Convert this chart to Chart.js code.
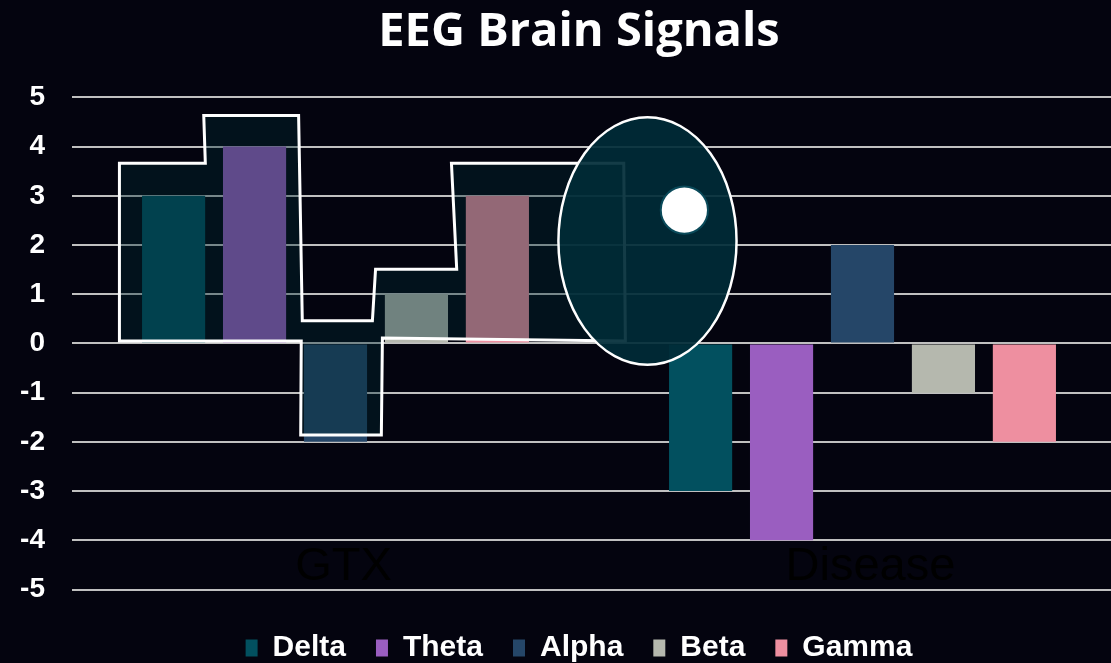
<!DOCTYPE html>
<html>
<head>
<meta charset="utf-8">
<script src="https://cdn.jsdelivr.net/npm/chart.js@4.4.0/dist/chart.umd.min.js"></script>
<style>
  html, body { margin: 0; padding: 0; background: #04040f; overflow: hidden; }
  #eegChart { display: block; }
</style>
</head>
<body>
<canvas id="eegChart" width="1158" height="673"></canvas>
<script>
// chart data
var categories = ['GTX', 'Disease'];
var seriesNames = ['Delta', 'Theta', 'Alpha', 'Beta', 'Gamma'];
var deltaValues = [3, -3];
var thetaValues = [4, -4];
var alphaValues = [-2, 2];
var betaValues = [1, -1];
var gammaValues = [3, -2];
var yTicks = [-5, -4, -3, -2, -1, 0, 1, 2, 3, 4, 5];
var yTickLabels = ['-5', '-4', '-3', '-2', '-1', '0', '1', '2', '3', '4', '5'];

var seriesColors = ['#02505f', '#9a5ec0', '#254668', '#b5b8ae', '#ee8fa0'];

// hand drawn overlay, in [category index, value] units
var outlinePoints = [
    [-0.41, 3.66], [-0.247, 3.66], [-0.25, 4.63], [-0.07, 4.63], [-0.063, 0.46],
    [0.07, 0.46], [0.076, 1.51], [0.23, 1.51], [0.22, 3.66], [0.547, 3.66],
    [0.55, 0.05], [0.089, 0.11], [0.087, -1.86], [-0.066, -1.86], [-0.065, 0.05],
    [-0.41, 0.05]
];
var ovalCenter = [0.592, 2.08];
var ovalRadius = [0.169, 2.515];
var dotCenter = [0.662, 2.71];
var dotRadius = 0.48;

var overlayPlugin = {
    id: 'overlay',
    afterDatasetsDraw: function (chart) {
        var ctx = chart.ctx;
        var x = chart.scales.x, y = chart.scales.y;
        var x0 = x.getPixelForValue(0);
        var step = x.getPixelForValue(1) - x0;
        var px = function (v) { return x0 + v * step; };
        var py = function (v) { return y.getPixelForValue(v); };
        var unit = py(0) - py(1);

        ctx.save();
        // outline shape
        ctx.beginPath();
        outlinePoints.forEach(function (p, i) {
            if (i === 0) ctx.moveTo(px(p[0]), py(p[1]));
            else ctx.lineTo(px(p[0]), py(p[1]));
        });
        ctx.closePath();
        ctx.fillStyle = 'rgba(0, 41, 50, 0.38)';
        ctx.fill();
        ctx.lineWidth = 3;
        ctx.strokeStyle = '#ffffff';
        ctx.stroke();

        // oval
        ctx.beginPath();
        ctx.ellipse(px(ovalCenter[0]), py(ovalCenter[1]), ovalRadius[0] * step, ovalRadius[1] * unit, 0, 0, Math.PI * 2);
        ctx.fillStyle = 'rgba(0, 43, 55, 0.92)';
        ctx.fill();
        ctx.lineWidth = 2.5;
        ctx.strokeStyle = '#ffffff';
        ctx.stroke();

        // dot
        ctx.beginPath();
        ctx.arc(px(dotCenter[0]), py(dotCenter[1]), dotRadius * unit, 0, Math.PI * 2);
        ctx.fillStyle = '#ffffff';
        ctx.fill();
        ctx.lineWidth = 2;
        ctx.strokeStyle = '#0a4a5a';
        ctx.stroke();

        // category labels sit inside the plot, in black
        ctx.fillStyle = '#000000';
        ctx.font = '47px "Liberation Sans", Arial, sans-serif';
        ctx.textAlign = 'center';
        ctx.textBaseline = 'middle';
        categories.forEach(function (c, i) {
            ctx.fillText(c, x.getPixelForValue(i) + 8, py(-4.55));
        });
        ctx.restore();
    }
};

var allValues = [deltaValues, thetaValues, alphaValues, betaValues, gammaValues];

var ctx = document.getElementById('eegChart').getContext('2d');
var myChart = new Chart(ctx, {
    type: 'bar',
    data: {
        labels: categories,
        datasets: seriesNames.map(function (name, i) {
            return {
                label: name,
                data: allValues[i],
                backgroundColor: seriesColors[i],
                borderWidth: 0,
                categoryPercentage: 0.768,
                barPercentage: 0.78
            };
        })
    },
    options: {
        responsive: false,
        animation: false,
        devicePixelRatio: 1,
        layout: { padding: 0 },
        plugins: {
            title: {
                display: true,
                text: 'EEG Brain Signals',
                color: '#ffffff',
                font: { family: '"Open Sans", sans-serif', size: 47, weight: 'bold' },
                padding: { top: 4, bottom: 37 }
            },
            legend: {
                position: 'bottom',
                labels: {
                    color: '#ffffff',
                    font: { family: '"Liberation Sans", Arial, sans-serif', size: 30, weight: 'bold' },
                    boxWidth: 12,
                    boxHeight: 17,
                    padding: 30
                }
            },
            tooltip: { enabled: false }
        },
        scales: {
            x: {
                display: true,
                grid: { display: false },
                border: { display: false },
                ticks: { display: false },
                afterFit: function (scale) { scale.height = 13.5; }
            },
            y: {
                min: -5,
                max: 5,
                afterBuildTicks: function (scale) {
                    scale.ticks = yTicks.map(function (v) { return { value: v }; });
                },
                afterFit: function (scale) { scale.width = 72; },
                grid: { color: '#c0c0c0', lineWidth: 2, drawTicks: false },
                border: { display: false },
                ticks: {
                    color: '#ffffff',
                    padding: 27,
                    font: { family: '"Liberation Sans", Arial, sans-serif', size: 28, weight: 'bold' },
                    callback: function (value) {
                        return yTickLabels[yTicks.indexOf(value)];
                    }
                }
            },
            // empty spacer on the right, the plot runs past the picture edge
            spacer: {
                position: 'right',
                display: true,
                grid: { display: false },
                border: { display: false },
                ticks: { display: false },
                afterFit: function (scale) { scale.width = 32; }
            }
        }
    },
    plugins: [overlayPlugin]
});
</script>
</body>
</html>
